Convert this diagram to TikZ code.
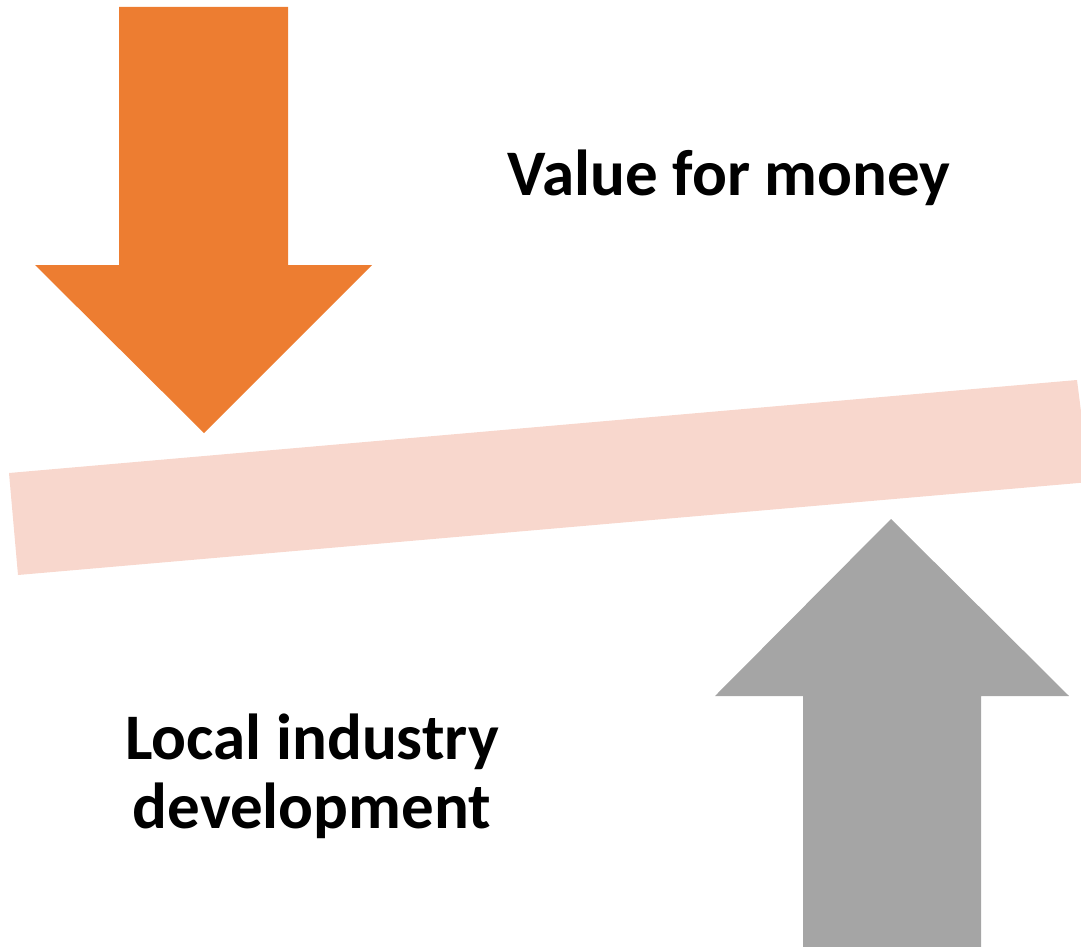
\documentclass[tikz,border=0pt]{standalone}
\usepackage{fontspec}
\setmainfont{Carlito}
\definecolor{arroworange}{HTML}{ED7D31}
\definecolor{arrowgray}{HTML}{A5A5A5}
\definecolor{beampeach}{HTML}{F8D7CD}
\begin{document}
\begin{tikzpicture}[x=1pt,y=-1pt,
  label text/.style={font=\bfseries\fontsize{65}{69}\selectfont, inner sep=0pt, align=center}]
\useasboundingbox (0,0) rectangle (1081,947);
% tilted beam
\fill[beampeach] (9,473) -- (1077,380) -- (1090,482) -- (18,575) -- cycle;
% downward orange arrow
\fill[arroworange] (119,7) -- (288,7) -- (288,265) -- (372,265) -- (204,433)
  -- (35,265) -- (119,265) -- cycle;
% upward gray arrow
\fill[arrowgray] (891,519) -- (1069,696) -- (981,696) -- (981,947) -- (803,947)
  -- (803,696) -- (715,696) -- cycle;
% labels
\node[label text, anchor=base] (vfm) at (729,195) {Value for money};
\node[label text, anchor=base] (lid) at (312,828) {Local industry\\development};
\end{tikzpicture}
\end{document}
